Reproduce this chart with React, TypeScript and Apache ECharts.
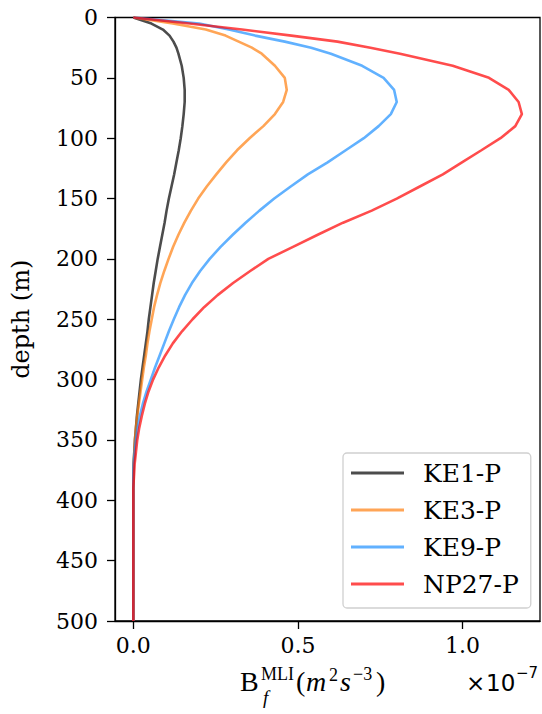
import React, { useEffect, useRef } from "react";
import * as echarts from "echarts";

const depths = [0, 5, 10, 15, 20, 25, 30, 40, 50, 60, 70, 80, 90, 100, 110, 120, 130, 140, 150, 160, 170, 180, 190, 200, 210, 220, 230, 240, 250, 260, 270, 280, 290, 300, 310, 320, 330, 340, 350, 360, 370, 380, 390, 400, 450, 500];

const ke1 = [0, 0.055, 0.09, 0.11, 0.122, 0.131, 0.137, 0.147, 0.153, 0.156, 0.156, 0.153, 0.149, 0.144, 0.138, 0.131, 0.124, 0.116, 0.108, 0.101, 0.095, 0.088, 0.081, 0.074, 0.068, 0.062, 0.057, 0.052, 0.047, 0.043, 0.038, 0.033, 0.028, 0.023, 0.019, 0.015, 0.011, 0.008, 0.005, 0.003, 0.001, 0, 0, 0, 0, 0];
const ke3 = [0, 0.12, 0.22, 0.28, 0.32, 0.36, 0.39, 0.43, 0.46, 0.466, 0.455, 0.43, 0.395, 0.353, 0.315, 0.282, 0.252, 0.223, 0.197, 0.175, 0.155, 0.137, 0.121, 0.107, 0.094, 0.082, 0.072, 0.063, 0.056, 0.049, 0.043, 0.038, 0.032, 0.027, 0.022, 0.017, 0.012, 0.008, 0.005, 0.003, 0.001, 0, 0, 0, 0, 0];
const ke9 = [0, 0.2, 0.29, 0.37, 0.46, 0.54, 0.6, 0.695, 0.76, 0.792, 0.8, 0.782, 0.745, 0.7, 0.645, 0.59, 0.53, 0.478, 0.428, 0.383, 0.341, 0.302, 0.265, 0.232, 0.203, 0.178, 0.157, 0.139, 0.123, 0.108, 0.094, 0.08, 0.066, 0.053, 0.04, 0.029, 0.02, 0.013, 0.008, 0.004, 0.001, 0, 0, 0, 0, 0];
const np27 = [0, 0.17, 0.33, 0.48, 0.62, 0.72, 0.81, 0.97, 1.08, 1.14, 1.17, 1.18, 1.16, 1.115, 1.057, 0.998, 0.94, 0.87, 0.8, 0.724, 0.637, 0.56, 0.485, 0.41, 0.355, 0.303, 0.256, 0.215, 0.18, 0.148, 0.12, 0.097, 0.077, 0.06, 0.046, 0.035, 0.026, 0.018, 0.012, 0.008, 0.004, 0.002, 0, 0, 0, 0];

const seriesNames = ["KE1-P", "KE3-P", "KE9-P", "NP27-P"];
const seriesValues = [ke1, ke3, ke9, np27];
const colors = ["rgb(0,0,0)", "rgb(255,127,14)", "rgb(30,144,255)", "rgb(255,0,0)"];
const xTicks = [0, 0.5, 1.0];
const yTicks = [0, 50, 100, 150, 200, 250, 300, 350, 400, 450, 500];

const FONT = "'DejaVu Serif', serif";
const MATH = "'Liberation Serif', serif";
const SANS = "'DejaVu Sans', sans-serif";

export default function App() {
  const ref = useRef<HTMLDivElement>(null);
  useEffect(() => {
    if (!ref.current) return;
    const chart = echarts.init(ref.current, null, { renderer: "svg" });
    const txt = (x: number, y: number, text: string, size: number, italic = false, family = MATH) => ({
      type: "text",
      x,
      y,
      style: {
        text,
        fontFamily: family,
        fontSize: size,
        fontStyle: italic ? "italic" : "normal",
        fill: "#000",
        align: "left",
        verticalAlign: "middle",
      },
    });
    chart.setOption({
      animation: false,
      backgroundColor: "#fff",
      grid: {
        left: 115,
        right: 2,
        top: 17.5,
        bottom: 93,
        show: true,
        borderColor: "#000",
        borderWidth: 1.3,
        containLabel: false,
      },
      legend: {
        orient: "vertical",
        left: 343,
        top: 453,
        data: seriesNames,
        icon: "rect",
        itemWidth: 53,
        itemHeight: 3,
        itemGap: 11,
        padding: [7, 12, 11, 8],
        backgroundColor: "rgba(255,255,255,0.8)",
        borderColor: "#d0d0d0",
        borderWidth: 1.3,
        borderRadius: 4,
        textStyle: {
          fontFamily: FONT,
          fontSize: 25,
          color: "#000",
          lineHeight: 26,
          padding: [0, 0, 0, 14],
        },
      },
      xAxis: {
        type: "value",
        min: -0.0556,
        max: 1.235,
        axisLine: { show: true, onZero: false, lineStyle: { color: "#000", width: 1.3 } },
        axisTick: { show: true, length: 8, customValues: xTicks, lineStyle: { color: "#000", width: 1.3 } },
        axisLabel: {
          customValues: xTicks,
          formatter: (v: number) => v.toFixed(1),
          fontFamily: FONT,
          fontSize: 22,
          color: "#000",
          margin: 13,
        },
        splitLine: { show: false },
      },
      yAxis: {
        type: "value",
        inverse: true,
        min: 0,
        max: 500,
        interval: 50,
        name: "depth (m)",
        nameLocation: "middle",
        nameGap: 82,
        nameRotate: 90,
        nameTextStyle: { fontFamily: FONT, fontSize: 24, color: "#000" },
        axisLine: { show: true, onZero: false, lineStyle: { color: "#000", width: 1.3 } },
        axisTick: { show: true, length: 8, lineStyle: { color: "#000", width: 1.3 } },
        axisLabel: {
          fontFamily: FONT,
          fontSize: 22,
          color: "#000",
          margin: 17,
          customValues: yTicks,
        },
        splitLine: { show: false },
      },
      series: seriesNames.map((name, i) => ({
        name,
        type: "line",
        showSymbol: false,
        symbol: "none",
        smooth: false,
        data: seriesValues[i].map((v, k) => [v, depths[k]]),
        lineStyle: { color: colors[i], width: 2.6, opacity: 0.7 },
        itemStyle: { color: colors[i], opacity: 0.7 },
      })),
      graphic: [
        txt(240, 681, "B", 28),
        txt(261, 674, "MLI", 18),
        txt(263, 697, "f", 19, true),
        txt(296, 681, "(", 28),
        txt(306, 681, "m", 28, true),
        txt(329, 675, "2", 18),
        txt(340, 681, "s", 28, true),
        txt(353, 674, "\u22123", 18),
        txt(376, 681, ")", 28),
        txt(466, 683, "\u00d7", 23, false, SANS),
        txt(486, 683, "10", 23, false, SANS),
        txt(516, 673, "\u22127", 15, false, SANS),
      ],
    });
    return () => chart.dispose();
  }, []);
  return (
    <div
      ref={ref}
      style={{ position: "absolute", left: 0, top: 0, width: 542, height: 714 }}
    />
  );
}
